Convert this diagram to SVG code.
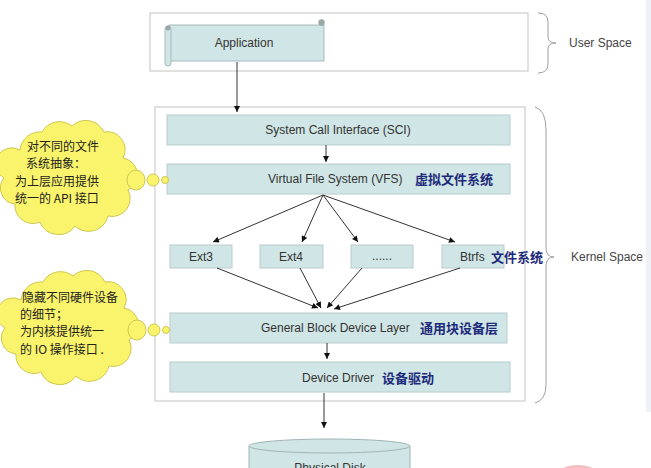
<svg xmlns="http://www.w3.org/2000/svg" width="651" height="468" viewBox="0 0 651 468">
<style>
  .frame{fill:#ffffff;stroke:#c4c4c4;stroke-width:1}
  .box{fill:#d0e5e5;stroke:#b9cccc;stroke-width:1}
  .t{font-family:"Liberation Sans",Arial,sans-serif;font-size:12px;fill:#333333}
  .cn{font-family:"Noto Sans CJK SC","Liberation Sans",sans-serif;font-size:13px;font-weight:bold;fill:#1c2a7a}
  .ct{font-family:"Noto Sans CJK SC","Liberation Sans",sans-serif;font-size:12px;fill:#222222}
  .lbl{font-family:"Liberation Sans",Arial,sans-serif;font-size:12px;fill:#444444}
  .cloud{fill:#faf46c;stroke:#cfc64e;stroke-width:1}
  .brace{fill:none;stroke:#a0a0a0;stroke-width:1}
  .conn line{stroke:#333333;stroke-width:1;marker-end:url(#ah)}
</style>
<defs>
  <marker id="ah" viewBox="0 0 10 10" refX="10" refY="5" markerWidth="7" markerHeight="6" orient="auto" markerUnits="userSpaceOnUse">
    <path d="M0,0 L10,5 L0,10 Z" fill="#111111"/>
  </marker>
  <path id="cloudShape" d="M20,150 A20,20 0 0 1 42,132 A20,20 0 0 1 72,126 A20,20 0 0 1 104,132 A18,18 0 0 1 123,158 A17,17 0 0 1 128,190 A18,18 0 0 1 108,216 A20,20 0 0 1 75,226 A20,20 0 0 1 40,222 A18,18 0 0 1 15,204 A16,16 0 0 1 4,178 A16,16 0 0 1 20,150 Z"/>
</defs>
<rect width="651" height="468" fill="#ffffff"/>
<rect x="646" y="0" width="5" height="412" fill="#eef1f6"/>

<g id="user-space">
  <rect class="frame" x="150" y="13" width="378" height="58"/>
  <path class="brace" d="M538,13 Q548,13 548,22 L548,37 Q548,43 556,43 Q548,43 548,49 L548,64 Q548,73 538,73"/>
  <text class="lbl" x="569" y="47">User Space</text>
</g>
<g id="kernel-space">
  <rect class="frame" x="155" y="107" width="370" height="294"/>
  <path class="brace" d="M535,107 Q546,110 546,130 L546,248 Q546,257 554,257 Q546,257 546,266 L546,385 Q546,400 535,403"/>
  <text class="lbl" x="571" y="261">Kernel Space</text>
</g>

<g id="application">
  <rect x="169" y="25" width="155" height="36" fill="#d0e5e5" stroke="#a7bbbb" stroke-width="1"/>
  <rect x="165" y="26" width="6" height="40" rx="3" fill="#d0e5e5" stroke="#a7bbbb" stroke-width="1"/>
  <circle cx="168" cy="28" r="2.5" fill="#9aa8a8"/>
  <circle cx="321.5" cy="22.5" r="3.2" fill="#9aa8a8"/>
  <text class="t" x="244" y="47" text-anchor="middle">Application</text>
</g>

<g id="sci">
  <rect class="box" x="167" y="115" width="343" height="30"/>
  <text class="t" x="338" y="134" text-anchor="middle">System Call Interface (SCI)</text>
</g>
<g id="vfs">
  <rect class="box" x="167" y="164" width="343" height="30"/>
  <text class="t" x="268" y="183">Virtual File System (VFS)</text>
  <text class="cn" x="415" y="184">虚拟文件系统</text>
</g>
<g id="ext3">
  <rect class="box" x="170" y="245" width="62" height="23"/>
  <text class="t" x="201" y="261" text-anchor="middle">Ext3</text>
</g>
<g id="ext4">
  <rect class="box" x="260" y="245" width="63" height="23"/>
  <text class="t" x="291" y="261" text-anchor="middle">Ext4</text>
</g>
<g id="other">
  <rect class="box" x="351" y="245" width="62" height="23"/>
  <text class="t" x="382" y="260" text-anchor="middle" font-size="9">......</text>
</g>
<g id="btrfs">
  <rect class="box" x="442" y="245" width="62" height="23"/>
  <text class="t" x="460" y="261">Btrfs</text>
  <text class="cn" x="491" y="262">文件系统</text>
</g>
<g id="gbdl">
  <rect class="box" x="170" y="313" width="337" height="30"/>
  <text class="t" x="261" y="332">General Block Device Layer</text>
  <text class="cn" x="420" y="333">通用块设备层</text>
</g>
<g id="driver">
  <rect class="box" x="170" y="362" width="340" height="30"/>
  <text class="t" x="302" y="382">Device Driver</text>
  <text class="cn" x="382" y="383">设备驱动</text>
</g>
<g id="disk">
  <path d="M249,446 L249,470 L410,470 L410,446" fill="#d0e5e5" stroke="#a0b4b4" stroke-width="1"/>
  <ellipse cx="329.5" cy="446" rx="80.5" ry="7" fill="#d0e5e5" stroke="#a0b4b4" stroke-width="1"/>
  <text class="t" x="330" y="472" text-anchor="middle">Physical Disk</text>
</g>

<g id="cloud-vfs">
  <use href="#cloudShape" class="cloud"/>
  <ellipse class="cloud" cx="136" cy="180" rx="9" ry="10"/>
  <circle class="cloud" cx="153" cy="180" r="6"/>
  <circle class="cloud" cx="165" cy="180" r="3.5"/>
  <text class="ct" x="27" y="151">对不同的文件</text>
  <text class="ct" x="26" y="168">系统抽象：</text>
  <text class="ct" x="15" y="186">为上层应用提供</text>
  <text class="ct" x="15" y="203">统一的 API 接口</text>
</g>
<g id="cloud-block">
  <use href="#cloudShape" class="cloud" transform="translate(1,150)"/>
  <ellipse class="cloud" cx="137" cy="330" rx="9" ry="10"/>
  <circle class="cloud" cx="154" cy="330" r="6"/>
  <circle class="cloud" cx="166" cy="330" r="3.5"/>
  <text class="ct" x="22" y="302">隐藏不同硬件设备</text>
  <text class="ct" x="20" y="319">的细节；</text>
  <text class="ct" x="20" y="336">为内核提供统一</text>
  <text class="ct" x="20" y="354">的 IO 操作接口 .</text>
</g>

<ellipse cx="578" cy="474" rx="20" ry="9" fill="#f0b0b0" opacity="0.8"/>

<g id="connectors" class="conn">
  <line x1="237" y1="62" x2="237" y2="112"/>
  <line x1="326" y1="145" x2="326" y2="162"/>
  <line x1="323" y1="195" x2="213" y2="242"/>
  <line x1="323" y1="195" x2="302" y2="242"/>
  <line x1="323" y1="195" x2="358" y2="242"/>
  <line x1="323" y1="195" x2="455" y2="242"/>
  <line x1="217" y1="268" x2="318" y2="308"/>
  <line x1="300" y1="268" x2="321" y2="308"/>
  <line x1="362" y1="268" x2="327" y2="308"/>
  <line x1="460" y1="268" x2="334" y2="309"/>
  <line x1="327" y1="343" x2="327" y2="359"/>
  <line x1="324" y1="393" x2="324" y2="428"/>
</g>
</svg>
